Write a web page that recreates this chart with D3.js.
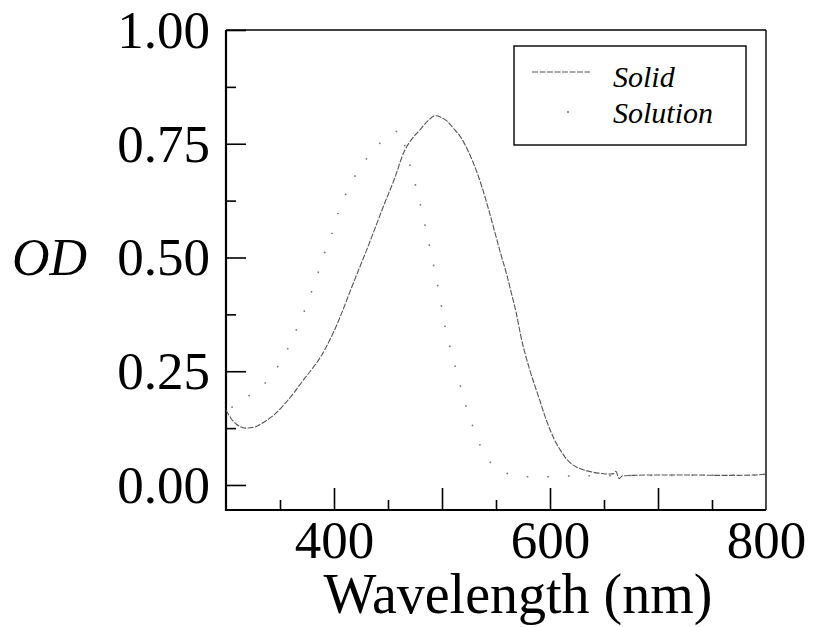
<!DOCTYPE html>
<html>
<head>
<meta charset="utf-8">
<script src="https://cdn.jsdelivr.net/npm/d3@7"></script>
<style>
  body { margin: 0; background: #fff; }
  svg { display: block; }
  svg text { font-family: "Liberation Serif", "Times New Roman", Times, serif; }
</style>
</head>
<body>
<svg id="chart" width="813" height="627"></svg>
<script>
// Spectra (wavelength in nm, OD)
var solidWl = [300, 305, 310, 318, 326, 335, 345, 354, 363, 372, 380, 388, 397, 406, 414, 422, 430, 437, 446, 456,
    465, 472, 479, 486, 494, 500, 505, 511, 518, 524, 530, 537, 543, 549, 555, 560, 564, 569, 573, 581,
    590, 597, 604, 610, 616, 624, 633, 645, 656, 659, 661, 664, 667, 675, 700, 730, 760, 790, 800];
var solidOD = [0.165, 0.145, 0.133, 0.125, 0.127, 0.138, 0.155, 0.177, 0.203, 0.232, 0.256, 0.283, 0.323, 0.371, 0.420, 0.468, 0.515, 0.558, 0.614, 0.673,
    0.733, 0.760, 0.779, 0.798, 0.812, 0.807, 0.799, 0.783, 0.762, 0.735, 0.702, 0.655, 0.607, 0.555, 0.503, 0.462, 0.424, 0.375, 0.327, 0.255,
    0.190, 0.140, 0.100, 0.075, 0.055, 0.040, 0.032, 0.026, 0.024, 0.025, 0.030, 0.014, 0.020, 0.021, 0.022, 0.022, 0.021, 0.022, 0.024];

var solutionWl = [305, 317, 333, 345, 355, 364, 371, 378, 385, 391, 398, 404, 415, 428, 440, 452, 459, 462, 466, 472,
    477, 486, 490, 494, 498, 501, 510, 515, 520, 526, 533, 540, 550, 562, 580, 600, 620, 700, 800];
var solutionOD = [0.170, 0.190, 0.216, 0.250, 0.289, 0.335, 0.373, 0.417, 0.464, 0.508, 0.552, 0.598, 0.660, 0.710, 0.745, 0.770, 0.778, 0.780, 0.740, 0.689,
    0.645, 0.552, 0.508, 0.461, 0.415, 0.371, 0.280, 0.236, 0.190, 0.146, 0.100, 0.065, 0.038, 0.024, 0.018, 0.018, 0.020, 0.021, 0.022];

var yTicks = [0, 0.25, 0.5, 0.75, 1.0];
var yMinor = [0.125, 0.375, 0.625, 0.875];
var xTicks = [400, 600, 800];
var xMajor = [400, 500, 600, 700];
var xMinor = [350, 450, 550, 650, 750];
var seriesNames = ['Solid', 'Solution'];

var serif = '"Liberation Serif", "Times New Roman", Times, serif';

var svg = d3.select('#chart');

// plot frame
var box = {l: 226, r: 766, t: 30, b: 510};

var xScale = d3.scaleLinear().domain([300, 800]).range([box.l, box.r]);
var yScale = d3.scaleLinear().domain([-0.055, 1.0]).range([box.b, box.t]);

// y axis: major ticks with labels, minor ticks without
var yAxisG = svg.append('g')
    .attr('transform', 'translate(' + box.l + ',0)')
    .call(d3.axisLeft(yScale).tickValues(yTicks).tickSize(-20).tickSizeOuter(0)
        .tickPadding(16).tickFormat(d3.format('.2f')));
var yMinorG = svg.append('g')
    .attr('transform', 'translate(' + box.l + ',0)')
    .call(d3.axisLeft(yScale).tickValues(yMinor).tickSize(-10).tickSizeOuter(0).tickFormat(''));

// x axis: labels only at 400/600/800, ticks every 50
var xLabelG = svg.append('g')
    .attr('transform', 'translate(0,' + box.b + ')')
    .call(d3.axisBottom(xScale).tickValues(xTicks).tickSize(0).tickSizeOuter(0).tickPadding(10).tickFormat(d3.format('d')));
var xMajorG = svg.append('g')
    .attr('transform', 'translate(0,' + box.b + ')')
    .call(d3.axisBottom(xScale).tickValues(xMajor).tickSize(-22).tickSizeOuter(0).tickFormat(''));
var xMinorG = svg.append('g')
    .attr('transform', 'translate(0,' + box.b + ')')
    .call(d3.axisBottom(xScale).tickValues(xMinor).tickSize(-10).tickSizeOuter(0).tickFormat(''));

[yAxisG, yMinorG, xLabelG, xMajorG, xMinorG].forEach(function(g) {
    g.attr('font-family', null).attr('font-size', null);
    g.select('.domain').remove();
    g.selectAll('line').attr('stroke', '#000').attr('stroke-width', 1.6);
    g.selectAll('text')
        .attr('fill', '#000')
        .attr('font-family', serif)
        .attr('font-size', 53);
});
yAxisG.selectAll('text').attr('text-anchor', 'end').attr('dy', '0.33em');
xLabelG.selectAll('text').attr('text-anchor', 'middle').attr('dy', '0.71em');

// frame lines
svg.append('line').attr('x1', box.l).attr('x2', box.l).attr('y1', box.t).attr('y2', box.b + 1)
    .attr('stroke', '#000').attr('stroke-width', 2.2);
svg.append('line').attr('x1', box.l).attr('x2', box.r).attr('y1', box.b).attr('y2', box.b)
    .attr('stroke', '#000').attr('stroke-width', 2.2);
svg.append('line').attr('x1', box.l).attr('x2', box.r).attr('y1', box.t).attr('y2', box.t)
    .attr('stroke', '#000').attr('stroke-width', 1.4);
svg.append('line').attr('x1', box.r).attr('x2', box.r).attr('y1', box.t).attr('y2', box.b)
    .attr('stroke', '#000').attr('stroke-width', 1.4);

// curves
var line = d3.line()
    .x(d => xScale(d[0]))
    .y(d => yScale(d[1]))
    .curve(d3.curveMonotoneX);

var solidData = solidWl.map((w, i) => [w, solidOD[i]]);
var solutionData = solutionWl.map((w, i) => [w, solutionOD[i]]);

svg.append('path')
    .datum(solidData)
    .attr('d', line)
    .attr('fill', 'none')
    .attr('stroke', '#555')
    .attr('stroke-width', 1.1)
    .attr('stroke-dasharray', '6,1.5');

svg.append('path')
    .datum(solutionData)
    .attr('d', line)
    .attr('fill', 'none')
    .attr('stroke', '#777')
    .attr('stroke-width', 1.6)
    .attr('stroke-dasharray', '1.6,19');

// legend
var legend = svg.append('g');
legend.append('rect')
    .attr('x', 514).attr('y', 46).attr('width', 232).attr('height', 99)
    .attr('fill', '#fff').attr('stroke', '#000').attr('stroke-width', 1.4);
legend.append('line')
    .attr('x1', 532).attr('x2', 590).attr('y1', 72).attr('y2', 72)
    .attr('stroke', '#555').attr('stroke-width', 1.1).attr('stroke-dasharray', '6,1.5');
legend.append('line')
    .attr('x1', 567).attr('x2', 569).attr('y1', 112).attr('y2', 112)
    .attr('stroke', '#777').attr('stroke-width', 1.6);
legend.selectAll('.legend-label').data(seriesNames)
    .enter()
    .append('text')
    .attr('class', 'legend-label')
    .attr('x', 613)
    .attr('y', (d, i) => 87 + i * 36)
    .attr('font-family', serif)
    .attr('font-size', 30)
    .attr('font-style', 'italic')
    .text(d => d);

// axis titles
svg.append('text')
    .attr('x', 12).attr('y', 275)
    .attr('font-family', serif)
    .attr('font-size', 52)
    .attr('font-style', 'italic')
    .text('OD');

svg.append('text')
    .attr('x', 518).attr('y', 613)
    .attr('text-anchor', 'middle')
    .attr('font-family', serif)
    .attr('font-size', 56)
    .text('Wavelength (nm)');
</script>
</body>
</html>
